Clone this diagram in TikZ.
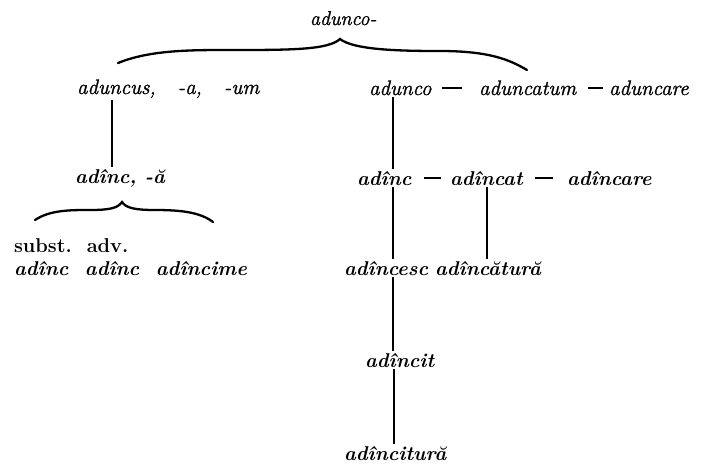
\documentclass[tikz,border=0pt]{standalone}
\usepackage{fontspec}
\newfontfamily\medfont{Latin Modern Roman}[FakeBold=1.3]
\usetikzlibrary{calc}
\tikzset{
  w/.style={inner sep=0pt, outer sep=2pt, anchor=base west, font=\fontsize{21}{25}\selectfont\medfont\itshape},
  wb/.style={w, font=\fontsize{20}{24}\selectfont\bfseries\itshape},
  wup/.style={w, font=\fontsize{20}{24}\selectfont\bfseries},
  vline/.style={line width=1.7pt},
  rule/.style={line width=2.6pt},
  curly/.style={line width=2.3pt, line cap=round},
}
\begin{document}
\begin{tikzpicture}[x=1pt,y=-1pt]
\useasboundingbox (0,0) rectangle (721,464);
% words
\node[w, font=\fontsize{20}{24}\selectfont\medfont\itshape] (n0) at (308,25) {adunco-};
\node[w] (n1) at (75,94) {aduncus,\ \ \ -a,\ \ \ -um};
\node[w] (n2) at (367,95) {adunco};
\node[w] (n3) at (477,95) {aduncatum};
\node[w] (n4) at (607,95) {aduncare};
\node[wb] (n5) at (73,183) {adînc, -ă};
\node[wb] (n6) at (355,185) {adînc};
\node[wb] (n7) at (448,185) {adîncat};
\node[wb] (n8) at (565,185) {adîncare};
\node[wb] (n9) at (342,275) {adîncesc};
\node[wb] (n10) at (433,275) {adîncătură};
\node[wb] (n11) at (363,367) {adîncit};
\node[wb] (n12) at (342,460) {adîncitură};
\node[wup] (n13) at (12,252) {subst.\ \ adv.};
\node[wb] (n14) at (12,275) {adînc\ \ adînc\ \ adîncime};
% braces
\draw[curly] (118,63) .. controls (150,50) and (190,50) .. (230,50)
  .. controls (290,50) and (328,50) .. (340,39)
  .. controls (354,50) and (400,51) .. (440,51)
  .. controls (490,51) and (510,60) .. (527,70);
\draw[curly] (35,220) .. controls (50,210) and (70,210) .. (90,210)
  .. controls (110,210) and (118,208) .. (122,202)
  .. controls (126,208) and (135,210) .. (155,210)
  .. controls (180,210) and (200,212) .. (213,222);
% dashes
\draw[rule] ($(n2.east)!0.2!(n3.west)$) -- ($(n2.east)!0.65!(n3.west)$);
\draw[rule] ($(n3.east)!0.35!(n4.west)$) -- ($(n3.east)!0.85!(n4.west)$);
\draw[rule] ($(n6.east)!0.3!(n7.west)$) -- ($(n6.east)!0.8!(n7.west)$);
\draw[rule] ($(n7.east)!0.25!(n8.west)$) -- ($(n7.east)!0.7!(n8.west)$);
% vertical connectors
\draw[vline] (n1.south -| 112,0) -- (n5.north -| 112,0);
\draw[vline] (n2.south -| 393,0) -- (n6.north -| 393,0);
\draw[vline] (n6.south -| 393,0) -- (n9.north -| 393,0);
\draw[vline] (n7.south -| 487,0) -- (n10.north -| 487,0);
\draw[vline] (n9.south -| 393,0) -- (n11.north -| 393,0);
\draw[vline] (n11.south -| 394,0) -- (n12.north -| 394,0);
\end{tikzpicture}
\end{document}
